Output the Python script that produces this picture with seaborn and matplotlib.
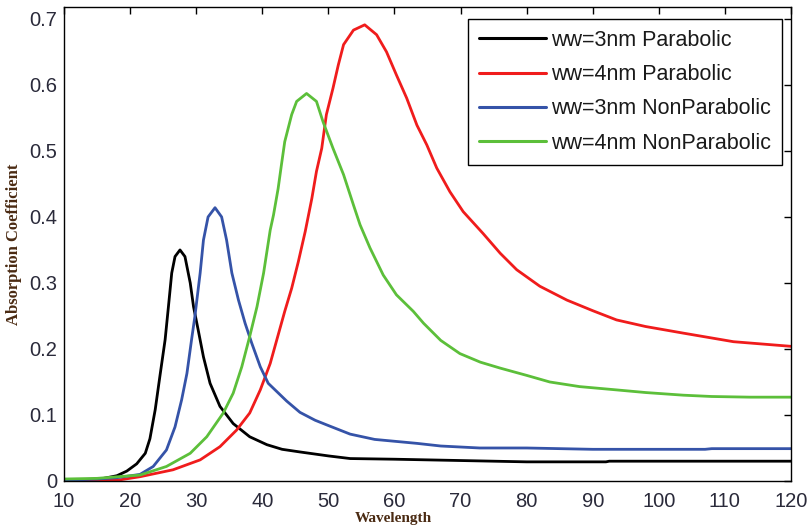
import numpy as np
import pandas as pd
import matplotlib
matplotlib.use("Agg")
import matplotlib.pyplot as plt
import seaborn as sns

# ---- data ----
black_x = [10, 14, 16, 18, 19.5, 21, 22.3, 23.0, 23.8, 24.5, 25.3, 25.8, 26.3, 26.8, 27.55, 28.3, 29.1,
           29.6, 30.3, 31.1, 32.1, 33.6, 35.6, 38.1, 40.7, 43, 45.7, 50, 53.3, 60, 65, 70, 80, 92, 92.5,
           100, 110, 120]
black_y = [0.001, 0.002, 0.004, 0.008, 0.015, 0.026, 0.042, 0.064, 0.108, 0.158, 0.214, 0.264, 0.315,
           0.340, 0.350, 0.340, 0.300, 0.264, 0.229, 0.188, 0.148, 0.113, 0.087, 0.067, 0.055, 0.048,
           0.044, 0.038, 0.034, 0.033, 0.032, 0.031, 0.029, 0.029, 0.030, 0.030, 0.030, 0.030]

red_x = [10, 18, 21.5, 26.5, 30.6, 33.6, 36.1, 38.1, 39.7, 41.2, 43.4, 44.45, 45.45, 46.5, 47.5, 48.2,
         49.0, 49.7, 50.7, 51.5, 52.3, 53.8, 55.5, 57.3, 58.8, 60.3, 61.85, 63.4, 64.9, 66.4, 68.4, 70.4,
         73.4, 76.0, 78.5, 82, 86.1, 90, 93.6, 98, 103.7, 111.3, 120]
red_y = [0.0, 0.001, 0.0065, 0.017, 0.032, 0.052, 0.077, 0.103, 0.138, 0.178, 0.257, 0.292, 0.332, 0.378,
         0.428, 0.469, 0.504, 0.555, 0.595, 0.630, 0.661, 0.683, 0.691, 0.676, 0.650, 0.615, 0.580, 0.539,
         0.509, 0.474, 0.438, 0.408, 0.375, 0.345, 0.320, 0.295, 0.274, 0.258, 0.244, 0.234, 0.224, 0.211,
         0.204]

blue_x = [10, 15, 18, 21.5, 23.5, 25.5, 26.8, 27.8, 28.6, 29.3, 29.8, 30.6, 31.1, 31.8, 32.85, 33.85,
          34.6, 35.4, 36.4, 37.4, 38.4, 39.7, 40.9, 43.7, 45.7, 48, 50, 53.3, 57, 63.4, 67, 72.9, 80, 90,
          107, 108, 120]
blue_y = [0.001, 0.003, 0.005, 0.010, 0.022, 0.047, 0.082, 0.123, 0.163, 0.214, 0.249, 0.315, 0.365,
          0.400, 0.414, 0.400, 0.365, 0.315, 0.274, 0.239, 0.209, 0.173, 0.148, 0.121, 0.104, 0.092, 0.084,
          0.071, 0.063, 0.057, 0.053, 0.050, 0.050, 0.048, 0.048, 0.049, 0.049]

green_x = [10, 15, 21.5, 25.5, 29.1, 31.6, 34.1, 35.6, 36.9, 38.1, 39.2, 40.2, 41.2, 41.7, 42.4, 42.9,
           43.4, 44.45, 45.2, 46.7, 48.2, 49.2, 50.7, 52.3, 53.8, 54.8, 56.3, 58.3, 60.3, 62.85, 64.4, 67,
           69.9, 73, 76, 80, 83.5, 88, 93.6, 98, 103.7, 108, 113.8, 120]
green_y = [0.003, 0.004, 0.009, 0.022, 0.042, 0.067, 0.103, 0.133, 0.173, 0.219, 0.264, 0.315, 0.380,
           0.403, 0.443, 0.479, 0.514, 0.555, 0.575, 0.587, 0.575, 0.544, 0.504, 0.464, 0.418, 0.388, 0.353,
           0.312, 0.282, 0.257, 0.239, 0.213, 0.193, 0.180, 0.171, 0.160, 0.150, 0.143, 0.138, 0.134, 0.130,
           0.128, 0.127, 0.127]

labels = ["ww=3nm Parabolic", "ww=4nm Parabolic", "ww=3nm NonParabolic", "ww=4nm NonParabolic"]
colors = ["#000000", "#f01c1c", "#3553a8", "#5cbf3a"]
x_ticks = [10, 20, 30, 40, 50, 60, 70, 80, 90, 100, 110, 120]
y_ticks = [0, 0.1, 0.2, 0.3, 0.4, 0.5, 0.6, 0.7]
y_tick_labels = ["0", "0.1", "0.2", "0.3", "0.4", "0.5", "0.6", "0.7"]

frames = []
for lab, xs, ys in zip(labels, [black_x, red_x, blue_x, green_x], [black_y, red_y, blue_y, green_y]):
    frames.append(pd.DataFrame({"Wavelength": xs, "Absorption": ys, "series": lab}))
df = pd.concat(frames, ignore_index=True)

sns.set_style("white")
plt.rcParams["font.family"] = ["Liberation Sans", "DejaVu Sans"]

fig = plt.figure(figsize=(8.12, 5.31), dpi=100)
ax = fig.add_axes([64 / 812, 1 - 481 / 531, (791 - 64) / 812, (481 - 7) / 531])

sns.lineplot(data=df, x="Wavelength", y="Absorption", hue="series", hue_order=labels,
             palette=dict(zip(labels, colors)), estimator=None, sort=False, linewidth=2.0, ax=ax)

ax.set_xlim(10, 120)
ax.set_ylim(0, 0.718)
ax.set_xticks(x_ticks)
ax.set_xticklabels([str(t) for t in x_ticks])
ax.set_yticks(y_ticks)
ax.set_yticklabels(y_tick_labels)
tick_color = "#2a2a3a"
ax.tick_params(direction="in", length=5, width=1, top=True, right=True, labelsize=14.5,
               colors="black", labelcolor=tick_color)
ax.tick_params(axis="x", pad=8)
ax.tick_params(axis="y", pad=5)
for s in ax.spines.values():
    s.set_visible(True)
    s.set_color("black")
    s.set_linewidth(1.0)

lab_color = "#4a2a12"
ax.set_xlabel("Wavelength", fontsize=11, fontweight="bold", family=["Liberation Serif"], color=lab_color)
ax.xaxis.set_label_coords((393 - 64) / 727, -0.066)
ax.set_ylabel("Absorption Coefficient", fontsize=12, fontweight="bold", family=["Liberation Serif"],
              color=lab_color)
ax.yaxis.set_label_coords(-0.058, 0.5)

leg = ax.legend(loc="upper right", bbox_to_anchor=((782 - 64) / 727, (481 - 19) / 474),
                borderaxespad=0, fontsize=15.5, frameon=True, fancybox=False, framealpha=1,
                edgecolor="black", handlelength=3.1, handletextpad=0.25, labelspacing=0.62,
                borderpad=0.5, title=None)
leg.get_frame().set_linewidth(1.0)
for t in leg.get_texts():
    t.set_color("#1a1a1a")
for h in leg.get_lines():
    h.set_linewidth(2.2)

fig.savefig("out.png", dpi=100)
